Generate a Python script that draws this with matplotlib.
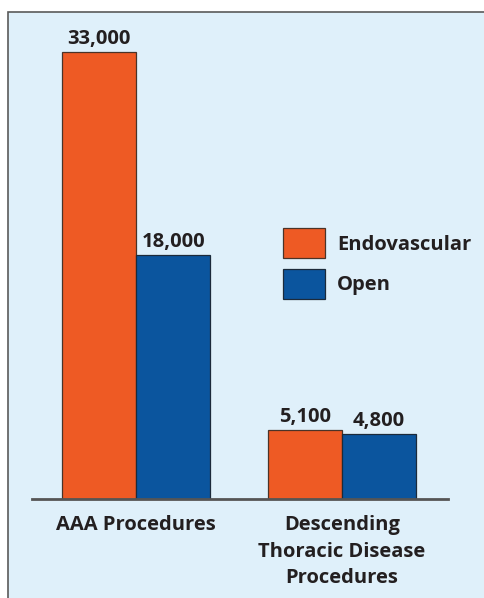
import matplotlib.pyplot as plt
from matplotlib.patches import Rectangle, Patch
import numpy as np

categories = ["AAA Procedures", "Descending\nThoracic Disease\nProcedures"]
endovascular = [33000, 5100]
open_surgery = [18000, 4800]
series_names = ["Endovascular", "Open"]

orange = '#EE5A24'
blue = '#0B559E'
bg = '#DFF0FA'

plt.rcParams['font.family'] = ['Open Sans', 'DejaVu Sans']
FS = 14.5

W, H = 484, 598
fig = plt.figure(figsize=(W / 100, H / 100), dpi=100)
fig.patch.set_facecolor('white')

# panel frame
fig.patches.append(Rectangle((8 / W, -0.05), 1.2, (H - 12) / H + 0.05,
                             transform=fig.transFigure, facecolor=bg,
                             edgecolor='#5a5a5a', linewidth=1.2, zorder=-1))

ax = fig.add_axes([32 / W, (H - 499) / H, (448 - 32) / W, (499 - 12) / H])
ax.set_zorder(2)
ax.patch.set_alpha(0)

x = np.arange(len(categories))
w = 0.36
b1 = ax.bar(x - w / 2, endovascular, w, color=orange, edgecolor='#4a3328', linewidth=0.9)
b2 = ax.bar(x + w / 2, open_surgery, w, color=blue, edgecolor='#1c2a3a', linewidth=0.9)

for bars, vals in ((b1, endovascular), (b2, open_surgery)):
    for r, v in zip(bars, vals):
        ax.annotate(f"{v:,}", (r.get_x() + r.get_width() / 2, v),
                    xytext=(0, 2), textcoords='offset points',
                    ha='center', va='bottom', fontsize=FS, fontweight='bold',
                    color='#231f20')

ax.set_xlim(-0.505, 1.515)
ax.set_ylim(0, 33000 * 487 / 447)
ax.set_xticks(x)
ax.set_xticklabels(categories, fontsize=FS, fontweight='bold', color='#231f20',
                   linespacing=1.45)
ax.tick_params(axis='x', length=0, pad=11.5)
ax.set_yticks([])
for s in ['top', 'right', 'left']:
    ax.spines[s].set_visible(False)
ax.spines['bottom'].set_color('#555555')
ax.spines['bottom'].set_linewidth(2)

handles = [Patch(facecolor=orange, edgecolor='#4a3328', linewidth=0.9),
           Patch(facecolor=blue, edgecolor='#1c2a3a', linewidth=0.9)]
leg = fig.legend(handles, series_names, loc='upper left',
                 bbox_to_anchor=(283 / W, (H - 228) / H), frameon=False,
                 prop={'size': FS, 'weight': 'bold'},
                 handlelength=2.1, handleheight=1.95, handletextpad=0.6,
                 labelspacing=0.5, borderpad=0, borderaxespad=0)
leg.set_zorder(3)
for t in leg.get_texts():
    t.set_color('#231f20')

plt.savefig('out.png', dpi=100)
